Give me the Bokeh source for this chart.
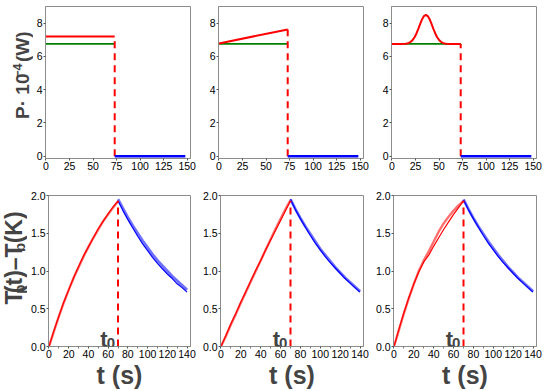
import math
from bokeh.plotting import figure
from bokeh.models import Range1d, FixedTicker, Label, PrintfTickFormatter
from bokeh.layouts import column, row
from bokeh.embed import file_html
from bokeh.resources import INLINE

FONT = "Liberation Sans"

# ---------------- data: power (top row), units of 1e-4 W ----------------
t0_top = 73
t_end_top = 148
on_t = [0, t0_top]
off_t = [t0_top, t_end_top]
p_off = [0.0, 0.0]
p_green = [6.75, 6.75]
p_red_const = [7.2, 7.2]
p_red_ramp = [6.78, 7.62]
pulse_t = [0, 10, 14, 16, 18, 20, 22, 24, 26, 28, 30, 32, 34, 36, 38, 40, 42,
           44, 46, 48, 50, 52, 54, 56, 58, 62, 73]
pulse_p = [6.75, 6.75, 6.76, 6.78, 6.81, 6.88, 6.99, 7.15, 7.38, 7.66, 7.96,
           8.24, 8.43, 8.50, 8.43, 8.24, 7.96, 7.66, 7.38, 7.15, 6.99, 6.88,
           6.81, 6.78, 6.76, 6.75, 6.75]
top_xticks = [0, 25, 50, 75, 100, 125, 150]
top_yticks = [0, 2, 4, 6, 8]

# ---------------- data: temperature (bottom row), K ----------------
t0_bot = 70
t_heat = [0, 5, 10, 15, 20, 25, 30, 35, 40, 45, 50, 55, 60, 65, 70]
t_cool = [70, 75, 80, 85, 90, 95, 100, 105, 110, 115, 120, 125, 130, 135, 140]

heat_fit_1 = [0, 0.21, 0.40, 0.59, 0.75, 0.91, 1.06, 1.20, 1.32, 1.44, 1.56, 1.66, 1.76, 1.85, 1.93]
heat_meas_1 = [0, 0.20, 0.40, 0.58, 0.75, 0.91, 1.05, 1.19, 1.32, 1.44, 1.55, 1.66, 1.75, 1.84, 1.92]
cool_fit_1 = [1.93, 1.80, 1.68, 1.57, 1.46, 1.36, 1.27, 1.18, 1.10, 1.03, 0.96, 0.90, 0.83, 0.78, 0.72]
cool_meas_1 = [1.95, 1.83, 1.71, 1.60, 1.50, 1.40, 1.31, 1.22, 1.14, 1.07, 1.00, 0.93, 0.87, 0.81, 0.75]

heat_fit_2 = [0, 0.15, 0.30, 0.44, 0.59, 0.73, 0.87, 1.01, 1.14, 1.28, 1.41, 1.54, 1.67, 1.80, 1.93]
heat_meas_2 = [0, 0.14, 0.29, 0.43, 0.58, 0.72, 0.86, 1.00, 1.14, 1.28, 1.42, 1.56, 1.69, 1.82, 1.94]
cool_fit_2 = [1.95, 1.81, 1.69, 1.58, 1.47, 1.37, 1.28, 1.19, 1.11, 1.04, 0.97, 0.90, 0.84, 0.78, 0.72]
cool_meas_2 = [1.95, 1.82, 1.70, 1.59, 1.49, 1.39, 1.29, 1.21, 1.13, 1.05, 0.98, 0.91, 0.85, 0.79, 0.73]

heat_fit_3 = [0, 0.23, 0.45, 0.65, 0.83, 0.99, 1.12, 1.21, 1.33, 1.44, 1.55, 1.65, 1.75, 1.84, 1.93]
heat_meas_3 = [0, 0.22, 0.44, 0.64, 0.83, 1.00, 1.14, 1.26, 1.39, 1.52, 1.63, 1.72, 1.80, 1.87, 1.93]
cool_fit_3 = [1.94, 1.81, 1.69, 1.58, 1.47, 1.37, 1.28, 1.19, 1.11, 1.04, 0.97, 0.90, 0.84, 0.78, 0.72]
cool_meas_3 = [1.95, 1.82, 1.70, 1.59, 1.49, 1.39, 1.30, 1.21, 1.13, 1.05, 0.98, 0.91, 0.85, 0.79, 0.73]

bot_xticks = [0, 20, 40, 60, 80, 100, 120, 140]
bot_xminor = [10, 30, 50, 70, 90, 110, 130]
bot_yticks = [0.0, 0.5, 1.0, 1.5, 2.0]

AX = "#8c8c8c"
H_TOP = 178
H_BOT = 213
STRIP_TOP = 33
STRIP_BOT = 27
NBSP = "\u00a0"


def make_fig(w, h, bl, br, bt, bb, xr, yr, xt, yt, xminor=()):
    p = figure(width=w, height=h, x_range=Range1d(*xr), y_range=Range1d(*yr),
               output_backend="svg", toolbar_location=None,
               min_border_left=bl, min_border_right=br,
               min_border_top=bt, min_border_bottom=bb)
    p.grid.visible = False
    p.outline_line_color = AX
    p.outline_line_width = 1
    p.xaxis.ticker = FixedTicker(ticks=xt, minor_ticks=list(xminor))
    p.yaxis.ticker = FixedTicker(ticks=yt)
    for ax in (p.xaxis[0], p.yaxis[0]):
        ax.axis_line_color = AX
        ax.major_tick_line_color = "#555555"
        ax.minor_tick_line_color = "#777777"
        ax.major_tick_out = 2
        ax.major_tick_in = 0
        ax.minor_tick_out = 2
        ax.minor_tick_in = 0
        ax.major_label_standoff = 1
        ax.major_label_text_font = FONT
        ax.major_label_text_font_size = "10.5px"
        ax.major_label_text_color = "black"
    return p


def make_strip(w, h):
    s = figure(width=w, height=h, x_range=Range1d(0, w),
               y_range=Range1d(0, h), output_backend="svg",
               toolbar_location=None, min_border=0,
               x_axis_location=None, y_axis_location=None)
    s.grid.visible = False
    s.outline_line_color = None
    return s


def vlabel(fig, x, y, txt, size):
    fig.add_layout(Label(x=x, y=y, text=txt, angle=math.pi / 2,
                         text_font=FONT, text_font_style="bold",
                         text_font_size=f"{size}px",
                         text_baseline="middle", text_align="center"))


W_TOP = [166, 173, 177]
W_BOT = [172, 173, 177]
BL_TOP = [12, 19, 19]
BL_BOT = [18, 19, 19]
BR = [9, 9, 13]
top_figs, bot_figs = [], []
for i in range(3):
    pt = make_fig(W_TOP[i], H_TOP, BL_TOP[i], BR[i], 6, 20, (-0.5, 153.5),
                  (-0.14, 9.0), top_xticks, top_yticks)
    pb = make_fig(W_BOT[i], H_BOT, BL_BOT[i], BR[i], 17, 20, (-0.5, 143.5),
                  (0, 2.0), bot_xticks, bot_yticks, bot_xminor)
    pb.yaxis.formatter = PrintfTickFormatter(format="%.1f")
    pb.xaxis.axis_label = "t (s)"
    pb.xaxis.axis_label_text_font = FONT
    pb.xaxis.axis_label_text_font_style = "bold"
    pb.xaxis.axis_label_text_font_size = "25px"
    pb.xaxis.axis_label_standoff = 0
    top_figs.append(pt)
    bot_figs.append(pb)

# ---------------- top row drawing ----------------
red_tops = [p_red_const[-1], p_red_ramp[-1], pulse_p[-1]]
for i, p in enumerate(top_figs):
    p.line(on_t, p_green, color="#008000", line_width=1.6)
    if i == 0:
        p.line(on_t, p_red_const, color="red", line_width=2)
    elif i == 1:
        p.line(on_t, p_red_ramp, color="red", line_width=2)
    else:
        p.line(pulse_t, pulse_p, color="red", line_width=2)
    p.segment(x0=[t0_top], y0=[0], x1=[t0_top], y1=[red_tops[i]],
              color="red", line_width=2, line_dash="7 5")
    p.line(off_t, p_off, color="blue", line_width=2.5)

# ---------------- bottom row drawing ----------------
heats = [(heat_meas_1, heat_fit_1), (heat_meas_2, heat_fit_2), (heat_meas_3, heat_fit_3)]
cools = [(cool_meas_1, cool_fit_1), (cool_meas_2, cool_fit_2), (cool_meas_3, cool_fit_3)]
for i, p in enumerate(bot_figs):
    hm, hf = heats[i]
    cm, cf = cools[i]
    p.line(t_heat, hm, color="#ff7070", line_width=2.4)
    p.line(t_heat, hf, color="red", line_width=1.2)
    p.line(t_cool, cm, color="#7070ff", line_width=2.8)
    p.line(t_cool, cf, color="blue", line_width=1.2)
    p.segment(x0=[t0_bot], y0=[0], x1=[t0_bot], y1=[hf[-1]],
              color="red", line_width=2, line_dash="7 5")
    p.add_layout(Label(x=t0_bot - 18, y=0.09, text="t", text_font=FONT,
                       text_font_style="bold", text_font_size="22px",
                       text_baseline="alphabetic", text_align="left"))
    p.add_layout(Label(x=t0_bot - 11.5, y=0.04, text="0", text_font=FONT,
                       text_font_style="bold", text_font_size="15px",
                       text_baseline="alphabetic", text_align="left"))

# ---------------- y-axis titles in narrow strips ----------------
strip_top = make_strip(STRIP_TOP, H_TOP)
strip_bot = make_strip(STRIP_BOT, H_BOT)

EM = {"T": 0.611, "p": 0.611, "(": 0.333, "t": 0.333, ")": 0.333, "–": 0.556,
      "b": 0.611, " ": 0.278, NBSP: 0.278, "K": 0.722, "P": 0.667, "·": 0.333,
      "1": 0.556, "0": 0.556, "−": 0.584, "4": 0.556, "W": 0.944}


def text_w(txt, size):
    return sum(EM[c] for c in txt) * size


def place(strip, pieces, center, mid_x):
    total = sum(text_w(t, s) for t, s, _ in pieces)
    ycur = center - total / 2
    for txt, size, xc in pieces:
        w = text_w(txt, size)
        vlabel(strip, mid_x + xc, ycur + w / 2, txt, size)
        ycur += w


# top: P· 10^-4 (W)   (strip y measured from the strip's bottom)
place(strip_top, [("P·" + NBSP + "10", 19, 0), ("−4", 12.5, -5.5),
                  (NBSP + "(W)", 19, 0)],
      center=98, mid_x=22)
# bottom: T_p(t)–T_b (K)
place(strip_bot, [("T", 23, 0), ("p", 15, 5.3), ("(t)–T", 23, 0),
                  ("b", 15, 5.3), (NBSP + "(K)", 23, 0)],
      center=122.5, mid_x=13.5)

layout = column(row(strip_top, *top_figs), row(strip_bot, *bot_figs))
open("out.html", "w").write(file_html(layout, INLINE))
